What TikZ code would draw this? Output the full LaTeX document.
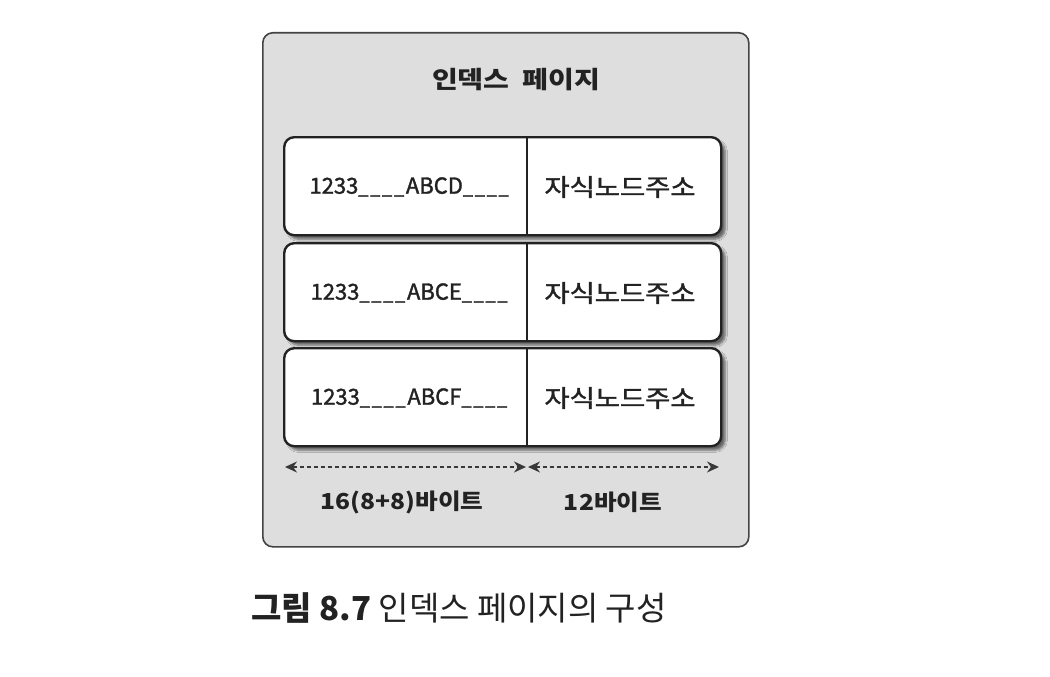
\documentclass[tikz,border=0pt]{standalone}
\usepackage{fontspec}
\setmainfont{Noto Sans CJK KR}
\newfontfamily\medfont[FakeBold=1.5]{Noto Sans CJK KR}
\newcommand{\usgap}{\scalebox{0.82}[1]{\_}\kern1.8pt}
\newcommand{\fourus}{\usgap\usgap\usgap\usgap}
\usetikzlibrary{arrows.meta,calc,shadows.blur}
\definecolor{pagegray}{HTML}{DEDEDE}
\definecolor{ink}{HTML}{222222}
\tikzset{
  pagebox/.style={draw=ink!85, line width=1.6pt, fill=pagegray, rounded corners=10pt, inner sep=0pt},
  rowbox/.style={draw=ink, line width=2.4pt, fill=white, rounded corners=10pt, inner sep=0pt,
    minimum width=437pt, minimum height=98pt, anchor=north west,
    blur shadow={shadow xshift=4pt, shadow yshift=-4pt, shadow blur steps=6, shadow opacity=55}},
  keytext/.style={text=ink, font=\medfont\fontsize{22}{26}\selectfont, inner sep=0pt},
  addrtext/.style={text=ink, font=\medfont\fontsize{24}{28}\selectfont, inner sep=0pt},
  dimarrow/.style={ink!90, line width=1.5pt, dash pattern=on 4pt off 3pt, {Stealth[length=12pt,width=11pt]}-{Stealth[length=12pt,width=11pt]}},
  labeltext/.style={text=ink, font=\fontsize{22}{26}\selectfont\bfseries, inner sep=0pt}
}
\begin{document}
\begin{tikzpicture}[x=1pt,y=-1pt]
\useasboundingbox (0,0) rectangle (1050,677);
\fill[white] (0,0) rectangle (1050,677);
\node[pagebox, minimum width=486pt, minimum height=514pt, anchor=north west] (page) at (262,32) {};
\node[labeltext, font=\fontsize{24}{28}\selectfont\bfseries] (title) at (516,80) {\scalebox{1.17}[1]{인덱스\ \ 페이지}};

\node[rowbox] (row1) at (283,136) {};
\node[rowbox] (row2) at (283,242) {};
\node[rowbox] (row3) at (283,347) {};
\foreach \r in {row1,row2,row3}{
  \draw[ink, line width=1.2pt] ($(\r.north west)+(244,0)$) -- ($(\r.south west)+(244,0)$);
}
\node[keytext] (k1) at (410,187) {1233\fourus ABCD\fourus};
\node[keytext] (k2) at (410,293) {1233\fourus ABCE\fourus};
\node[keytext] (k3) at (410,398) {1233\fourus ABCF\fourus};
\node[addrtext] (c1) at (620,187) {\scalebox{1.14}[1]{자식노드주소}};
\node[addrtext] (c2) at (620,293) {\scalebox{1.14}[1]{자식노드주소}};
\node[addrtext] (c3) at (620,398) {\scalebox{1.14}[1]{자식노드주소}};

\coordinate (aL) at (285,467);
\coordinate (aM1) at (526,467);
\coordinate (aM2) at (528,467);
\coordinate (aR) at (719,467);
\draw[dimarrow] (aL) -- (aM1);
\draw[dimarrow] (aM2) -- (aR);
\node[labeltext] (l1) at (402,502) {\scalebox{1.12}[1]{16(8+8)바이트}};
\node[labeltext] (l2) at (613,502) {\scalebox{1.12}[1]{12바이트}};

\node[anchor=west, inner sep=0pt, text=ink, font=\fontsize{33}{38}\selectfont] (cap) at (251,608) {\textbf{그림 8.7} 인덱스 페이지의 구성};
\end{tikzpicture}
\end{document}
